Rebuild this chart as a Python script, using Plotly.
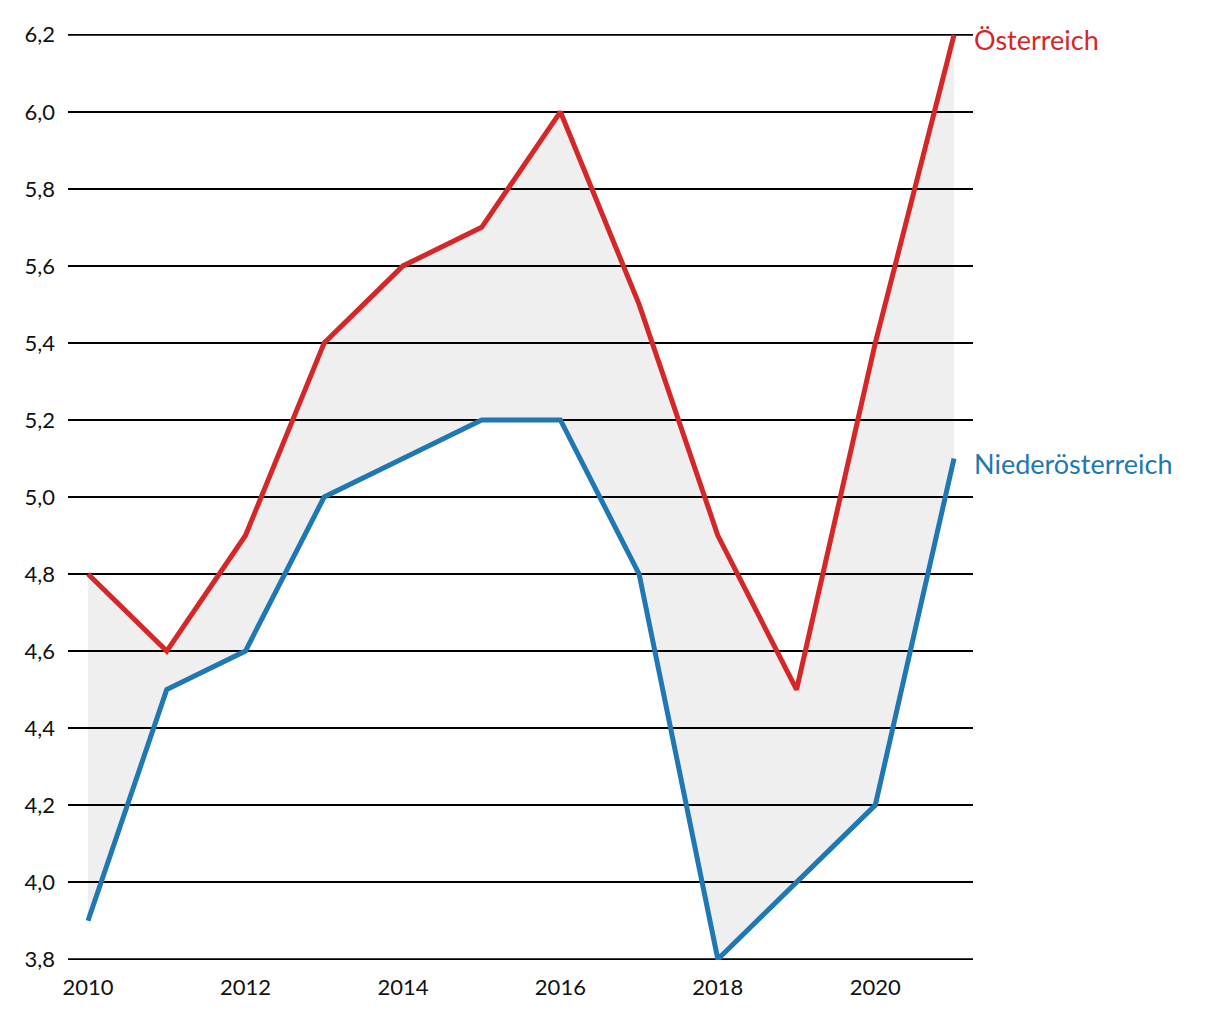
import plotly.graph_objects as go

years = list(range(2010, 2022))
oesterreich = [4.8, 4.6, 4.9, 5.4, 5.6, 5.7, 6.0, 5.5, 4.9, 4.5, 5.4, 6.2]
niederoesterreich = [3.9, 4.5, 4.6, 5.0, 5.1, 5.2, 5.2, 4.8, 3.8, 4.0, 4.2, 5.1]
y_min, y_max = 3.8, 6.2

red = "#d62728"
blue = "#1f77b4"

fig = go.Figure()

# grey band between the two series
fig.add_trace(go.Scatter(x=years, y=niederoesterreich, mode="lines",
                         line=dict(width=0), hoverinfo="skip", showlegend=False))
fig.add_trace(go.Scatter(x=years, y=oesterreich, mode="lines", fill="tonexty",
                         fillcolor="rgba(0,0,0,0.063)", line=dict(width=0),
                         hoverinfo="skip", showlegend=False))

fig.add_trace(go.Scatter(x=years, y=niederoesterreich, mode="lines", name="Niederösterreich",
                         line=dict(color=blue, width=5), cliponaxis=False, showlegend=False))
fig.add_trace(go.Scatter(x=years, y=oesterreich, mode="lines", name="Österreich",
                         line=dict(color=red, width=5), cliponaxis=False, showlegend=False))

# plotly skips gridlines on the range edges, draw those two by hand
for yv in (y_min, y_max):
    fig.add_shape(type="line", xref="paper", x0=0, x1=1, y0=yv, y1=yv,
                  line=dict(color="black", width=2), layer="below")

fig.add_annotation(x=years[-1], y=oesterreich[-1], text="Österreich", showarrow=False,
                   xanchor="left", yanchor="middle", xshift=18, yshift=-5,
                   font=dict(color=red, size=27))
fig.add_annotation(x=years[-1], y=niederoesterreich[-1], text="Niederösterreich", showarrow=False,
                   xanchor="left", yanchor="middle", xshift=18, yshift=-5,
                   font=dict(color=blue, size=27))

# page body adds an 8px offset, so margins are shifted accordingly
fig.update_layout(
    width=1220, height=1020,
    margin=dict(l=60, r=255, t=26, b=68),
    paper_bgcolor="white", plot_bgcolor="white",
    separators=",.",
    font=dict(family="Lato, Noto Sans, sans-serif", size=22, color="#111"),
    xaxis=dict(range=[2009.746, 2021.241], tickvals=list(range(2010, 2022, 2)),
               showgrid=False, zeroline=False, showline=False, ticks="",
               ticklabelstandoff=12),
    yaxis=dict(range=[y_min - 0.002, y_max + 0.002], dtick=0.2, tick0=y_min, tickformat=".1f",
               showgrid=True, gridcolor="black", gridwidth=2, zeroline=False,
               showline=False, ticks="", ticklabelstandoff=12),
)

fig.write_html("out.html")
